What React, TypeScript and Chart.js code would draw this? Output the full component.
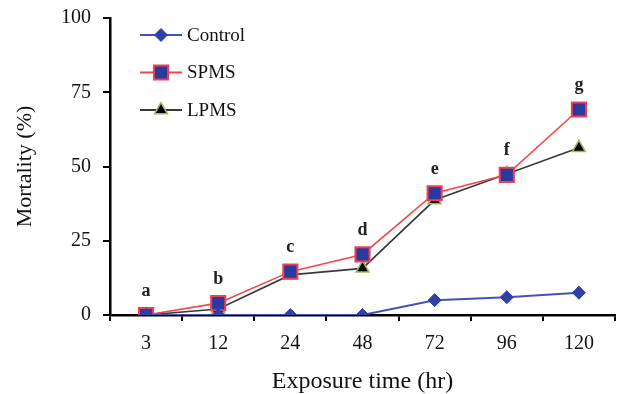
import React, { useEffect, useRef } from "react";
import { Chart, registerables } from "chart.js";

Chart.register(...registerables);

const categories = ["3", "12", "24", "48", "72", "96", "120"];
const controlValues = [0, 0, 0, 0, 5, 6, 7.5];
const spmsValues = [0, 4, 14.6, 20.4, 41, 47.2, 69.2];
const lpmsValues = [0, 2, 13.5, 15.7, 38.7, 47.5, 56.3];
const letters = ["a", "b", "c", "d", "e", "f", "g"];
const yTicks = [0, 25, 50, 75, 100];

const SERIF = "'Liberation Serif', 'DejaVu Serif', serif";

const letterPlugin = {
  id: "letters",
  afterDatasetsDraw(chart: any) {
    const { ctx, scales } = chart;
    const xs = scales.x;
    const ys = scales.y;
    ctx.save();
    ctx.font = `bold 18px ${SERIF}`;
    ctx.fillStyle = "#222";
    ctx.textAlign = "center";
    ctx.textBaseline = "middle";
    letters.forEach((l, i) => {
      const max = Math.max(controlValues[i], spmsValues[i], lpmsValues[i]);
      const x = xs.getPixelForValue(i);
      const y = ys.getPixelForValue(max) - 24;
      ctx.fillText(l, x, y);
    });
    ctx.restore();
  },
};

const legendPlugin = {
  id: "customLegend",
  afterDraw(chart: any) {
    const { ctx, chartArea } = chart;
    const x0 = chartArea.left + 30;
    const y0 = chartArea.top + 17;
    ctx.save();
    chart.data.datasets.forEach((ds: any, i: number) => {
      const y = y0 + i * 37.5;
      ctx.strokeStyle = ds.borderColor;
      ctx.lineWidth = 2;
      ctx.beginPath();
      ctx.moveTo(x0, y);
      ctx.lineTo(x0 + 42, y);
      ctx.stroke();
      ctx.fillStyle = ds.pointBackgroundColor;
      ctx.strokeStyle = ds.pointBorderColor;
      ctx.lineWidth = ds.pointBorderWidth;
      const r = ds.pointRadius;
      const cx = x0 + 21;
      ctx.beginPath();
      if (ds.pointStyle === "rect") {
        const s = Math.SQRT1_2 * r;
        ctx.rect(cx - s, y - s, 2 * s, 2 * s);
      } else if (ds.pointStyle === "rectRot") {
        ctx.moveTo(cx - r, y);
        ctx.lineTo(cx, y - r);
        ctx.lineTo(cx + r, y);
        ctx.lineTo(cx, y + r);
        ctx.closePath();
      } else {
        const a = (Math.PI * 2) / 3;
        ctx.moveTo(cx, y - r);
        ctx.lineTo(cx + Math.sin(a) * r, y - Math.cos(a) * r);
        ctx.lineTo(cx - Math.sin(a) * r, y - Math.cos(a) * r);
        ctx.closePath();
      }
      ctx.fill();
      ctx.stroke();
      ctx.fillStyle = "#111";
      ctx.font = `19px ${SERIF}`;
      ctx.textAlign = "left";
      ctx.textBaseline = "middle";
      ctx.fillText(ds.label, x0 + 47, y + 1);
    });
    ctx.restore();
  },
};

export default function App() {
  const ref = useRef<HTMLCanvasElement>(null);
  useEffect(() => {
    document.body.style.margin = "0";
    const chart = new Chart(ref.current!, {
      type: "line",
      data: {
        labels: categories,
        datasets: [
          {
            label: "Control",
            data: controlValues,
            borderColor: "#4453B3",
            borderWidth: 2,
            pointStyle: "rectRot",
            pointRadius: 6.5,
            pointBackgroundColor: "#2F40A8",
            pointBorderColor: "#2F40A8",
            pointBorderWidth: 1,
          },
          {
            label: "SPMS",
            data: spmsValues,
            borderColor: "#F04848",
            borderWidth: 1.6,
            pointStyle: "rect",
            pointRadius: 10,
            pointBackgroundColor: "#2B3A9E",
            pointBorderColor: "#EE4050",
            pointBorderWidth: 2,
          },
          {
            label: "LPMS",
            data: lpmsValues,
            borderColor: "#3A3A3A",
            borderWidth: 1.6,
            pointStyle: "triangle",
            pointRadius: 7.5,
            pointBackgroundColor: "#000000",
            pointBorderColor: "#9BBB59",
            pointBorderWidth: 1.5,
          },
        ] as any,
      },
      options: {
        animation: false,
        responsive: false,
        layout: { autoPadding: false, padding: { top: 18, right: 5, left: 0, bottom: 0 } },
        plugins: { legend: { display: false }, tooltip: { enabled: false } },
        scales: {
          x: {
            type: "category",
            offset: true,
            grid: {
              offset: true,
              drawOnChartArea: false,
              drawTicks: true,
              tickLength: 6,
              color: "#000",
              lineWidth: 2,
            },
            border: { color: "#000", width: 2.5 },
            ticks: {
              color: "#111",
              font: { family: SERIF, size: 20 },
              padding: 11,
              maxRotation: 0,
            },
            title: {
              display: true,
              text: "Exposure time (hr)",
              color: "#111",
              font: { family: SERIF, size: 24 },
              padding: { top: 0, bottom: -2 },
            },
            afterFit(scale: any) {
              scale.height = 79;
              scale.paddingLeft = 0;
              scale.paddingRight = 0;
            },
          },
          y: {
            min: 0,
            max: 100,
            afterBuildTicks(scale: any) {
              scale.ticks = yTicks.map((v) => ({ value: v }));
            },
            grid: {
              drawOnChartArea: false,
              drawTicks: true,
              tickLength: 7,
              color: "#000",
              lineWidth: 2,
            },
            border: { color: "#000", width: 2.5 },
            ticks: {
              color: "#111",
              font: { family: SERIF, size: 20 },
              padding: 12,
            },
            title: {
              display: true,
              text: "Mortality (%)",
              color: "#111",
              font: { family: SERIF, size: 22 },
              padding: { top: 12, bottom: 0 },
            },
            afterFit(scale: any) {
              scale.width = 110;
              scale.paddingTop = 0;
              scale.paddingBottom = 0;
            },
          },
        },
      },
      plugins: [letterPlugin, legendPlugin],
    });
    return () => chart.destroy();
  }, []);
  return (
    <div style={{ position: "absolute", left: 0, top: 0, width: 620, height: 394, background: "#fff" }}>
      <canvas ref={ref} width={620} height={394} style={{ width: 620, height: 394 }} />
    </div>
  );
}
